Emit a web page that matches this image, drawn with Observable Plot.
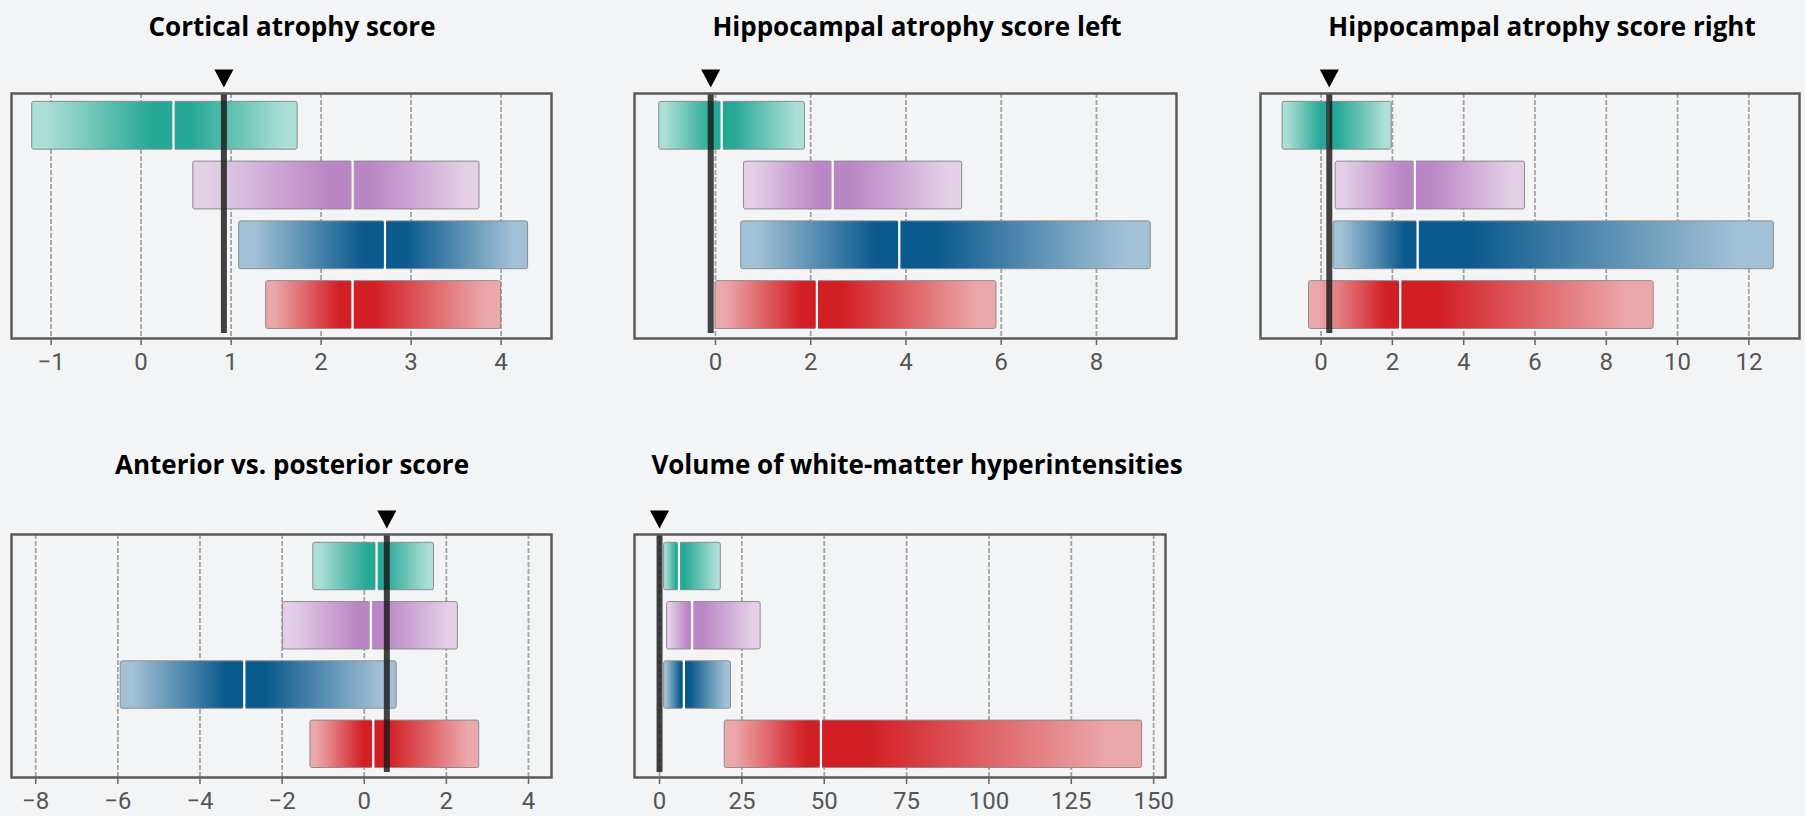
<!DOCTYPE html>
<html>
<head>
<meta charset="utf-8">
<script src="https://cdn.jsdelivr.net/npm/d3@7"></script>
<script src="https://cdn.jsdelivr.net/npm/@observablehq/plot@0.6"></script>
<style>
  html, body { margin: 0; padding: 0; background: #f3f4f6; }
  #page { position: relative; width: 1805px; height: 816px; overflow: hidden; background: #f3f4f6; }
  .title { position: absolute; width: 640px; text-align: center; font-family: "Open Sans", sans-serif;
           font-weight: 700; font-size: 26px; line-height: 26px; color: #000; white-space: nowrap; }
  .panel { position: absolute; }
  .panel svg { max-width: none !important; }
</style>
</head>
<body>
<div id="page"></div>
<script>
// ---------------- data ----------------
const titles = [
  "Cortical atrophy score",
  "Hippocampal atrophy score left",
  "Hippocampal atrophy score right",
  "Anterior vs. posterior score",
  "Volume of white-matter hyperintensities"
];
const groups = ["Group 1", "Group 2", "Group 3", "Group 4"];
const darkColors  = ["#26a896", "#bb86c5", "#0b5a8e", "#d21f25"];
const lightColors = ["#acdfd5", "#e3d0e7", "#a3c1d6", "#eba8ab"];

// per panel, per group (top to bottom)
const lows    = [[-1.21, 0.58, 1.09, 1.39], [-1.18, 0.60, 0.54, 0.00], [-1.08, 0.41, 0.35, -0.34], [-1.24, -1.98, -5.93, -1.31], [1.4, 2.3, 1.4, 19.8]];
const medians = [[0.36, 2.35, 2.71, 2.35], [0.13, 2.46, 3.86, 2.13], [0.20, 2.63, 2.71, 2.22], [0.30, 0.16, -2.92, 0.22], [5.9, 9.9, 7.4, 49.0]];
const highs   = [[1.74, 3.76, 4.30, 4.00], [1.88, 5.18, 9.14, 5.90], [1.98, 5.72, 12.70, 9.33], [1.70, 2.28, 0.79, 2.80], [18.6, 30.7, 21.7, 146.5]];
const patient = [0.92, -0.10, 0.23, 0.55, 0.0];

const xDomains = [[-1.44, 4.56], [-1.70, 9.68], [-1.70, 13.42], [-8.59, 4.56], [-7.6, 153.6]];
const xTicks = [
  [-1, 0, 1, 2, 3, 4],
  [0, 2, 4, 6, 8],
  [0, 2, 4, 6, 8, 10, 12],
  [-8, -6, -4, -2, 0, 2, 4],
  [0, 25, 50, 75, 100, 125, 150]
];

// ---------------- layout ----------------
const frames = [ // left, top, width, height of plotting frame
  [11, 93, 540, 245], [634, 93, 542, 245], [1260, 93, 539, 245],
  [11, 534, 540, 243], [634, 534, 531, 243]
];
const titleCenters = [292, 917, 1542, 292, 917];
const titleTops = [13, 13, 13, 451, 451];
const M = {left: 12, right: 30, top: 45, bottom: 50};

const downTriangle = {
  draw(ctx, size) {
    const r = Math.sqrt(size / Math.PI);
    const w = r * 1.36, h = r * 2.57;
    ctx.moveTo(-w, -h / 2);
    ctx.lineTo(w, -h / 2);
    ctx.lineTo(0, h / 2);
    ctx.closePath();
  }
};

const page = document.getElementById("page");

titles.forEach((t, p) => {
  const div = document.createElement("div");
  div.className = "title";
  div.textContent = t;
  div.style.left = (titleCenters[p] - 320) + "px";
  div.style.top = titleTops[p] + "px";
  page.appendChild(div);

  const rows = groups.map((g, j) => ({
    group: g, row: j, low: lows[p][j], median: medians[p][j], high: highs[p][j]
  }));

  const defs = () => {
    const d = d3.create("svg:defs");
    rows.forEach((r, j) => {
      for (const side of ["L", "R"]) {
        const lg = d.append("linearGradient")
          .attr("id", `grad-${p}-${j}-${side}`)
          .attr("x1", 0).attr("x2", 1).attr("y1", 0).attr("y2", 0);
        const L = lightColors[j], D = darkColors[j];
        const stops = side === "L"
          ? [[0, L], [0.1, L], [0.85, D], [1, D]]
          : [[0, D], [0.15, D], [0.9, L], [1, L]];
        stops.forEach(([o, c]) => lg.append("stop").attr("offset", o).attr("stop-color", c));
      }
    });
    return d.node();
  };

  const [fl, ft, fw, fh] = frames[p];
  const marks = [
    defs,
    Plot.gridX(xTicks[p], {stroke: "#9a9a9a", strokeOpacity: 0.9, strokeWidth: 1.8, strokeDasharray: "5,2"}),
  ];
  rows.forEach((r, j) => {
    marks.push(Plot.rect([r], {
      x1: "low", x2: "median", y1: d => d.row - 0.4, y2: d => d.row + 0.4,
      fill: `url(#grad-${p}-${j}-L)`, stroke: "#8c8c8c", strokeWidth: 1, rx: 2
    }));
    marks.push(Plot.rect([r], {
      x1: "median", x2: "high", y1: d => d.row - 0.4, y2: d => d.row + 0.4,
      fill: `url(#grad-${p}-${j}-R)`, stroke: "#8c8c8c", strokeWidth: 1, rx: 2
    }));
  });
  marks.push(Plot.ruleX(rows, {x: "median", y1: d => d.row - 0.43, y2: d => d.row + 0.43, stroke: "#ffffff", strokeWidth: 2.2}));
  marks.push(Plot.ruleX([patient[p]], {stroke: "#1a1a1a", strokeOpacity: 0.82, strokeWidth: 6, insetBottom: 5}));
  marks.push(Plot.dot([patient[p]], {x: d => d, frameAnchor: "top", dy: -15, r: 7, symbol: downTriangle, fill: "#000", stroke: "none"}));
  marks.push(Plot.frame({stroke: "#5a5a5a", strokeWidth: 2.5}));
  marks.push(Plot.axisX(xTicks[p], {tickSize: 7, tickPadding: 7, fontSize: 24, stroke: "#666", fill: "#555", strokeWidth: 1.5}));

  const W = fw + M.left + M.right, H = fh + M.top + M.bottom;
  const chart = Plot.plot({
    width: W,
    height: H,
    marginLeft: M.left, marginRight: M.right, marginTop: M.top, marginBottom: M.bottom,
    x: {domain: xDomains[p], axis: null},
    y: {domain: [-0.54, 3.56], reverse: true, axis: null},
    style: {background: "transparent", fontFamily: "Roboto, sans-serif", fontSize: "24px", color: "#555", overflow: "visible", maxWidth: "none"},
    marks
  });
  chart.style.maxWidth = "none";
  chart.style.width = W + "px";
  chart.style.height = H + "px";
  const holder = document.createElement("div");
  holder.className = "panel";
  holder.style.left = (fl - M.left) + "px";
  holder.style.top = (ft - M.top) + "px";
  holder.style.width = W + "px";
  holder.style.height = H + "px";
  holder.appendChild(chart);
  page.appendChild(holder);
});
</script>
</body>
</html>
